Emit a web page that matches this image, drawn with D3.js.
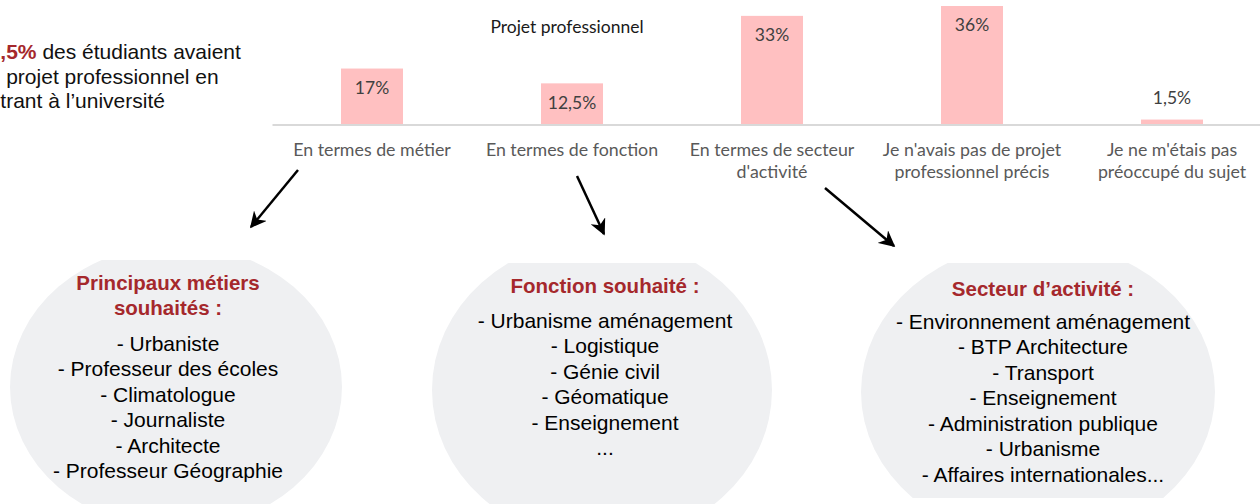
<!DOCTYPE html>
<html>
<head>
<meta charset="utf-8">
<script src="https://cdn.jsdelivr.net/npm/d3@7"></script>
<style>
  body { margin: 0; background: #fff; }
  svg { display: block; }
</style>
</head>
<body>
<div id="canvas"></div>
<script>
const categories = [
    'En termes de métier',
    'En termes de fonction',
    "En termes de secteur d'activité",
    "Je n'avais pas de projet professionnel précis",
    "Je ne m'étais pas préoccupé du sujet"
]
const tickLines = [
    ['En termes de métier'],
    ['En termes de fonction'],
    ['En termes de secteur', "d'activité"],
    ["Je n'avais pas de projet", 'professionnel précis'],
    ["Je ne m'étais pas", 'préoccupé du sujet']
]
const values = [17, 12.5, 33, 36, 1.5]
const valueLabels = ['17%', '12,5%', '33%', '36%', '1,5%']

const introLines = [
    ['62,5%', ' des étudiants avaient'],
    ['', 'un projet professionnel en'],
    ['', 'entrant à l’université']
]

const metiersTitle = ['Principaux métiers', 'souhaités :']
const metiers = ['- Urbaniste', '-  Professeur des écoles', '- Climatologue', '- Journaliste', '- Architecte', '- Professeur Géographie']
const fonctionsTitle = ['Fonction souhaité :']
const fonctions = ['- Urbanisme aménagement', '-  Logistique', '- Génie civil', '- Géomatique', '- Enseignement', '...']
const secteursTitle = ['Secteur d’activité :']
const secteurs = ['- Environnement aménagement', '- BTP Architecture', '- Transport', '- Enseignement', '- Administration publique', '- Urbanisme', '- Affaires internationales...']

const width = 1260
const height = 504
const red = '#A5282C'
const chartFont = 'Lato, "Open Sans", sans-serif'
const boxFont = '"Liberation Sans", Arial, sans-serif'

const svg = d3.select('#canvas')
    .append('svg')
        .attr('width', width)
        .attr('height', height)
        .attr('viewBox', [0, 0, width, height])

// bar chart
const x = d3.scaleBand()
    .domain(categories)
    .range([272, 1272])
    .paddingInner(0.69)
    .paddingOuter(0.345)

const y = d3.scaleLinear()
    .domain([0, 36])
    .range([124.5, 6])

svg.append('g').selectAll('rect')
    .data(values)
    .join('rect')
    .attr('x', (d, i) => x(categories[i]))
    .attr('y', d => y(d))
    .attr('width', x.bandwidth())
    .attr('height', d => y(0) - y(d))
    .attr('fill', '#FFC0C1')

svg.append('g').selectAll('text')
    .data(values)
    .join('text')
    .attr('x', (d, i) => x(categories[i]) + x.bandwidth() / 2)
    .attr('y', d => (y(0) - y(d) > 30 ? y(d) + 21 : y(d) - 20))
    .attr('text-anchor', 'middle')
    .attr('dominant-baseline', 'middle')
    .attr('font-family', chartFont)
    .attr('font-size', '17.5px')
    .attr('fill', '#404040')
    .text((d, i) => valueLabels[i])

const xAxis = svg.append('g')
    .attr('transform', `translate(0, ${y(0)})`)
    .call(d3.axisBottom(x).tickSize(0).tickFormat(''))
xAxis.select('.domain')
    .attr('stroke', '#D9D9D9')
    .attr('stroke-width', 2)
xAxis.selectAll('.tick text').remove()
xAxis.selectAll('.tick')
    .append('text')
    .attr('text-anchor', 'middle')
    .attr('font-family', chartFont)
    .attr('font-size', '17.8px')
    .attr('fill', '#595959')
    .selectAll('tspan')
    .data((d, i) => tickLines[i])
    .join('tspan')
    .attr('x', 0)
    .attr('y', (d, i) => 31 + i * 22.5)
    .text(d => d)

svg.append('text')
    .attr('x', 567)
    .attr('y', 33)
    .attr('text-anchor', 'middle')
    .attr('font-family', chartFont)
    .attr('font-size', '17.5px')
    .attr('fill', '#1a1a1a')
    .text('Projet professionnel')

// intro text (cut at the left edge)
const intro = svg.append('text')
    .attr('font-family', boxFont)
    .attr('font-size', '21px')
    .attr('fill', '#111')
introLines.forEach((l, i) => {
    const t = intro.append('tspan').attr('x', -23).attr('y', 59 + i * 24.5)
    if (l[0]) t.append('tspan').attr('font-weight', 'bold').attr('fill', red).text(l[0])
    t.append('tspan').text(l[1])
})

// arrows
const defs = svg.append('defs')
defs.append('marker')
    .attr('id', 'head')
    .attr('viewBox', '0 0 10 10')
    .attr('refX', 9)
    .attr('refY', 5)
    .attr('markerWidth', 6.5)
    .attr('markerHeight', 6.5)
    .attr('orient', 'auto')
    .append('path')
    .attr('d', 'M0,0 L10,5 L0,10 L3,5 Z')
    .attr('fill', '#000')

const arrows = [
    [298, 170, 251, 227],
    [577, 176, 604, 234],
    [825, 188, 894, 246]
]
svg.append('g').selectAll('line')
    .data(arrows)
    .join('line')
    .attr('x1', d => d[0])
    .attr('y1', d => d[1])
    .attr('x2', d => d[2])
    .attr('y2', d => d[3])
    .attr('stroke', '#000')
    .attr('stroke-width', 2.5)
    .attr('marker-end', 'url(#head)')

// bubbles
const bubbles = [
    { cx: 176, cy: 387, rx: 166, ry: 142, clip: [260, 504], tx: 168, titleY: 285, listY: 345, title: metiersTitle, items: metiers },
    { cx: 602, cy: 390, rx: 170, ry: 152, clip: [263, 504], tx: 605, titleY: 288, listY: 322, title: fonctionsTitle, items: fonctions },
    { cx: 1038, cy: 392, rx: 177, ry: 150, clip: [263, 498], tx: 1043, titleY: 291, listY: 323, title: secteursTitle, items: secteurs }
]

bubbles.forEach((b, k) => {
    defs.append('clipPath')
        .attr('id', 'clip' + k)
        .append('rect')
        .attr('x', b.cx - b.rx - 2)
        .attr('y', b.clip[0])
        .attr('width', b.rx * 2 + 4)
        .attr('height', b.clip[1] - b.clip[0])

    const g = svg.append('g')
    g.append('ellipse')
        .attr('cx', b.cx)
        .attr('cy', b.cy)
        .attr('rx', b.rx)
        .attr('ry', b.ry)
        .attr('fill', '#EFF0F2')
        .attr('clip-path', `url(#clip${k})`)

    g.append('g').selectAll('text')
        .data(b.title)
        .join('text')
        .attr('x', b.tx)
        .attr('y', (d, i) => b.titleY + i * 24.5)
        .attr('dominant-baseline', 'middle')
        .attr('text-anchor', 'middle')
        .attr('font-family', boxFont)
        .attr('font-weight', 'bold')
        .attr('font-size', '20.5px')
        .attr('fill', red)
        .text(d => d)

    g.append('g').selectAll('text')
        .data(b.items)
        .join('text')
        .attr('x', b.tx)
        .attr('y', (d, i) => b.listY + i * 25.5)
        .attr('dominant-baseline', 'middle')
        .attr('text-anchor', 'middle')
        .attr('font-family', boxFont)
        .attr('font-size', '21px')
        .attr('fill', '#000')
        .text(d => d)
})
</script>
</body>
</html>
